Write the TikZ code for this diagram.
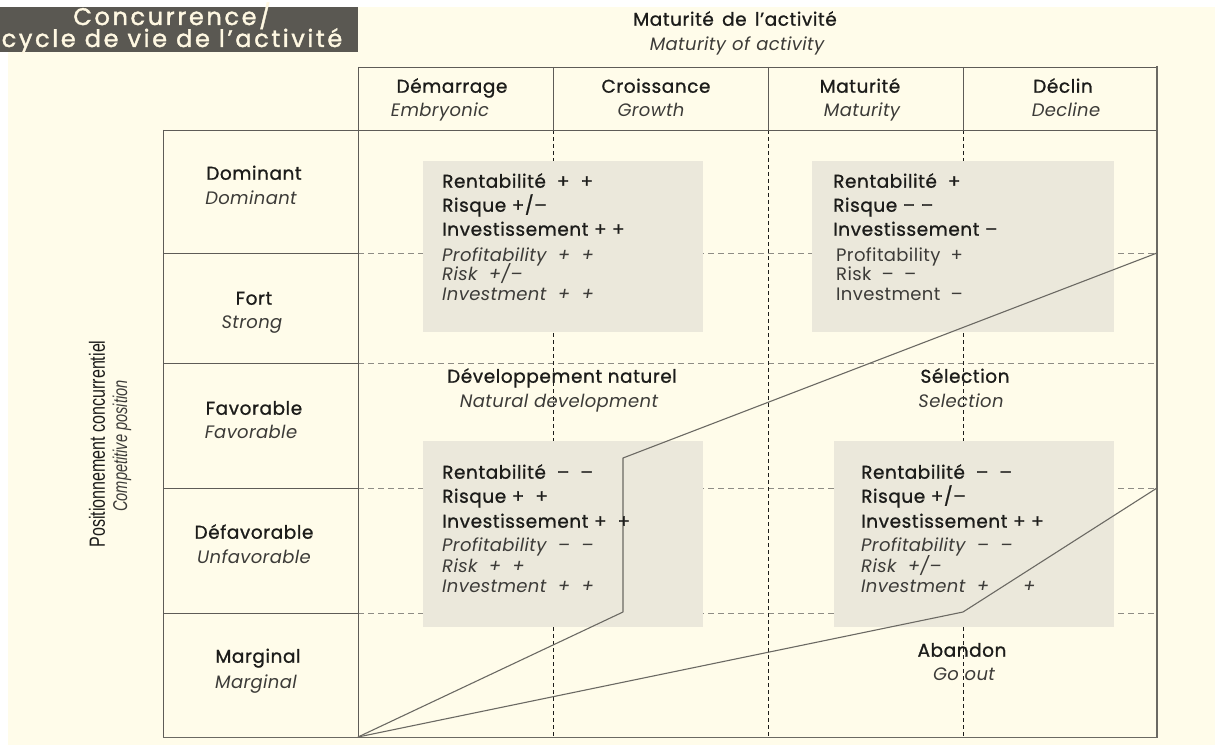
\documentclass[tikz,border=0pt]{standalone}
\usepackage{fontspec}
\setmainfont{Poppins}
\newfontfamily\medfont{Poppins}[FakeBold=1.0, LetterSpace=3]
\newfontfamily\headfont{Poppins}[FakeBold=1.6, LetterSpace=11]
\newfontfamily\narrowfont{Liberation Sans}
\definecolor{paper}{HTML}{FFFCEA}
\definecolor{titlebg}{HTML}{5A5852}
\definecolor{titlefg}{HTML}{FFF8E2}
\definecolor{cellfill}{HTML}{EBE8DB}
\definecolor{ink}{HTML}{1C1C1A}
\definecolor{softink}{HTML}{3C3B38}
\definecolor{rule}{HTML}{5E5C57}
\definecolor{hdash}{HTML}{8E8C85}
\definecolor{trend}{HTML}{6B6963}
\tikzset{
  x=1pt, y=-1pt,
  frame/.style={draw=rule, line width=0.9pt},
  hgrid/.style={draw=hdash, line width=0.8pt, dash pattern=on 6pt off 4pt},
  vgrid/.style={draw=ink, line width=0.6pt, dash pattern=on 4pt off 3pt},
  zone/.style={fill=cellfill, draw=none},
  trendline/.style={draw=trend, line width=1.1pt, line join=round},
  fr/.style={inner sep=0pt, yshift=-3pt, text=ink, font=\medfont\fontsize{18.5}{20}\selectfont, anchor=mid},
  en/.style={inner sep=0pt, yshift=-3pt, text=softink, font=\fontsize{18}{20}\selectfont\itshape\addfontfeatures{LetterSpace=2}, anchor=mid},
  frl/.style={fr, anchor=mid west},
  enl/.style={en, anchor=mid west},
  enu/.style={inner sep=0pt, yshift=-3pt, text=softink, font=\fontsize{18}{20}\selectfont\addfontfeatures{LetterSpace=2}, anchor=mid west},
  titletext/.style={inner sep=0pt, text=titlefg, font=\headfont\fontsize{24}{26}\selectfont, anchor=base},
}
\begin{document}
\begin{tikzpicture}
\useasboundingbox (0,0) rectangle (1215,746);
% paper
\fill[white] (0,0) rectangle (1215,746);
\fill[paper] (8,7) rectangle (1215,745);

% title block
\begin{scope}
\clip (0,0) rectangle (1215,746);
\fill[titlebg] (-10,7) rectangle (358,52);
\node[titletext] (t1) at (172,25) {Concurrence/};
\node[titletext] (t2) at (172,47) {cycle de vie de l’activité};
\end{scope}

% dashed grid inside the matrix
\foreach \y in {253,363,488,613} \draw[hgrid] (358,\y) -- (1157,\y);
\foreach \x in {553,768,963} \draw[vgrid] (\x,130) -- (\x,737);

% shaded zones
\fill[zone] (423,161) rectangle (703,332);
\fill[zone] (812,161) rectangle (1114,332);
\fill[zone] (423,441) rectangle (703,627);
\fill[zone] (834,441) rectangle (1114,627);

% frames
\draw[frame] (358,67) -- (1157,67);
\draw[frame] (163,130) -- (1157,130);
\draw[frame] (358,67) -- (358,737);
\foreach \x in {553,768,963} \draw[frame] (\x,67) -- (\x,130);
\draw[frame] (163,130) -- (163,737);
\foreach \y in {253,363,488,613} \draw[frame] (163,\y) -- (358,\y);
\draw[frame, draw=trend] (163,737) -- (1157,737);
\draw[draw=trend, line width=2pt] (1157,66) -- (1157,738);

% trajectories
\coordinate (o) at (358,737);
\coordinate (a1) at (623,612);
\coordinate (a2) at (623,458);
\coordinate (a3) at (1157,253);
\coordinate (b1) at (963,612);
\coordinate (b2) at (1157,488);
\draw[trendline] (o) -- (a1) -- (a2) -- (a3);
\draw[trendline] (o) -- (b1) -- (b2);

% axis titles
\node[fr] (mx) at (735,20) {Maturité\hspace{0.45em}de\hspace{0.45em}l’activité};
\node[en] (mxe) at (737,45) {Maturity\hspace{0.35em}of\hspace{0.35em}activity};
\node[inner sep=0pt, rotate=90, text=ink, font=\narrowfont\fontsize{22}{24}\selectfont] (py) at (97,444) {\scalebox{0.73}[1]{Positionnement concurrentiel}};
\node[inner sep=0pt, rotate=90, text=softink, font=\narrowfont\fontsize{20}{22}\selectfont\itshape] (pye) at (122,446) {\scalebox{0.73}[1]{Competitive position}};

% column heads
\node[fr] (c1) at (452,87) {Démarrage};
\node[en] (c1e) at (440,111) {Embryonic};
\node[fr] (c2) at (656,87) {Croissance};
\node[en] (c2e) at (651,111) {Growth};
\node[fr] (c3) at (860,87) {Maturité};
\node[en] (c3e) at (862,111) {Maturity};
\node[fr] (c4) at (1063,87) {Déclin};
\node[en] (c4e) at (1066,111) {Decline};

% row heads
\node[fr] (r1) at (254,174) {Dominant};
\node[en] (r1e) at (251,199) {Dominant};
\node[fr] (r2) at (254,299) {Fort};
\node[en] (r2e) at (252,323) {Strong};
\node[fr] (r3) at (254,409) {Favorable};
\node[en] (r3e) at (251,433) {Favorable};
\node[fr] (r4) at (254,533) {Défavorable};
\node[en] (r4e) at (254,558) {Unfavorable};
\node[fr] (r5) at (258,657) {Marginal};
\node[en] (r5e) at (256,683) {Marginal};

% zone contents
\node[frl] (z1a) at (442,182) {Rentabilité\hspace{11pt}+\hspace{11pt}+};
\node[frl] (z1b) at (442,206) {Risque +/–};
\node[frl] (z1c) at (442,230) {Investissement + +};
\node[enl] (z1d) at (442,256) {Profitability \ + \ +};
\node[enl] (z1e) at (442,275) {Risk \ +/–};
\node[enl] (z1f) at (442,295) {Investment \ + \ +};

\node[frl] (z2a) at (833,182) {Rentabilité\hspace{11pt}+};
\node[frl] (z2b) at (833,206) {Risque – –};
\node[frl] (z2c) at (833,230) {Investissement –};
\node[enu] (z2d) at (836,256) {Profitability \ +};
\node[enu] (z2e) at (836,275) {Risk \ – \ –};
\node[enu] (z2f) at (836,295) {Investment \ –};

\node[frl] (z3a) at (442,473) {Rentabilité \ – \ –};
\node[frl] (z3b) at (442,497) {Risque + \ +};
\node[frl] (z3c) at (442,522) {Investissement + \ +};
\node[enl] (z3d) at (442,546) {Profitability \ – \ –};
\node[enl] (z3e) at (442,567) {Risk \ + \ +};
\node[enl] (z3f) at (442,587) {Investment \ + \ +};

\node[frl] (z4a) at (861,473) {Rentabilité \ – \ –};
\node[frl] (z4b) at (861,497) {Risque +/–};
\node[frl] (z4c) at (861,522) {Investissement + +};
\node[enl] (z4d) at (861,546) {Profitability \ – \ –};
\node[enl] (z4e) at (861,567) {Risk \ +/–};
\node[enl] (z4f) at (861,587) {Investment \ +\hspace{34pt}+};

% strategy labels
\node[fr] (s1) at (562,377) {Développement naturel};
\node[en] (s1e) at (559,402) {Natural development};
\node[fr] (s2) at (965,377) {Sélection};
\node[en] (s2e) at (961,402) {Selection};
\node[fr] (s3) at (962,651) {Abandon};
\node[en] (s3e) at (964,675) {Go out};
\end{tikzpicture}
\end{document}
